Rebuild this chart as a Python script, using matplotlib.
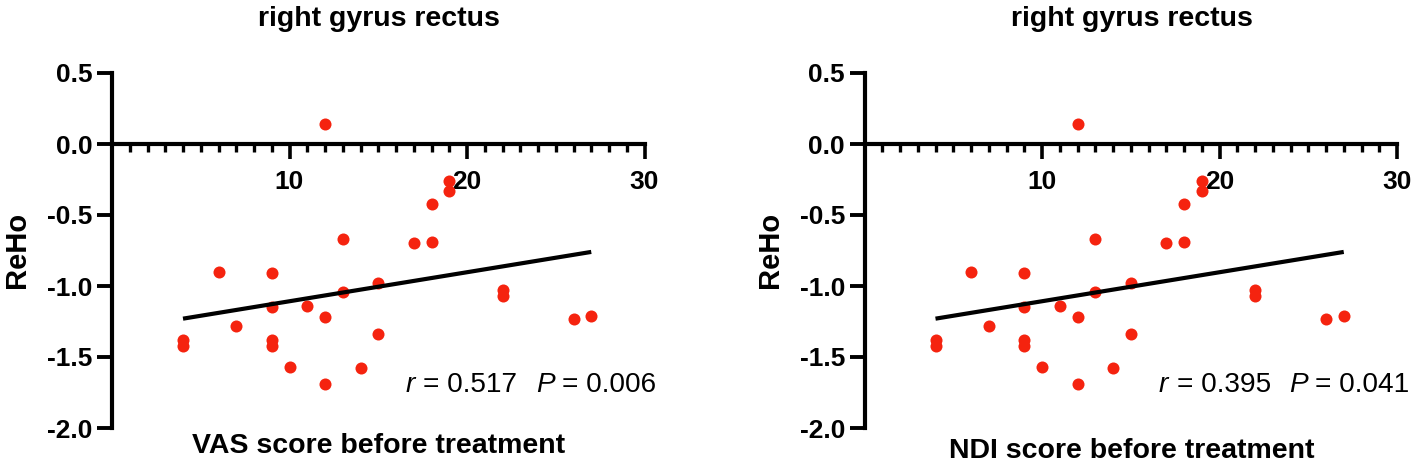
import matplotlib
matplotlib.use('Agg')
import matplotlib.pyplot as plt

plt.rcParams['font.family'] = ['Liberation Sans', 'DejaVu Sans']

W, H = 1417, 468

# data (both panels show the same points)
score = [12, 19, 19, 18, 13, 17, 18, 6, 9, 15, 13, 22, 22, 9, 11, 12, 26, 27, 7, 15, 4, 4, 9, 9, 10, 14, 12]
reho = [0.14, -0.26, -0.33, -0.42, -0.67, -0.70, -0.69, -0.90, -0.91, -0.98, -1.04, -1.03, -1.07, -1.15,
        -1.14, -1.22, -1.23, -1.21, -1.28, -1.34, -1.38, -1.42, -1.38, -1.42, -1.57, -1.58, -1.69]
fit_x = [4, 27]
fit_y = [-1.23, -0.76]
x_major = [10, 20, 30]
x_minor = list(range(1, 30))
y_major = [0.5, 0.0, -0.5, -1.0, -1.5, -2.0]
titles = ['right gyrus rectus', 'right gyrus rectus']
xlabels = ['VAS score before treatment', 'NDI score before treatment']
r_values = ['= 0.517', '= 0.395']
p_values = ['= 0.006', '= 0.041']
# left edge, right edge of each panel in pixels
panels = [(112, 644.5), (864.5, 1397)]
title_x = [378.5, 1132]
xlabel_x = [378.5, 1131.5]
xlabel_y = [446, 451]
ylabel_x = [17, 770]
# x pixel of the r, its value, the P, its value
stat_x = [(406, 423, 536, 562), (1159, 1177, 1289, 1315)]

fig = plt.figure(figsize=(W / 100, H / 100), dpi=100)

for i in range(2):
    left, right = panels[i]
    ax = fig.add_axes([left / W, 1 - 428 / H, (right - left) / W, (428 - 73) / H])
    ax.set_xlim(0, 30)
    ax.set_ylim(-2.0, 0.5)
    ax.patch.set_alpha(0)

    ax.scatter(score, reho, s=75, color='#f5230f', linewidths=0, zorder=3, clip_on=False)
    ax.plot(fit_x, fit_y, color='black', lw=3.0, solid_capstyle='butt', zorder=4)

    for side in ['top', 'right']:
        ax.spines[side].set_visible(False)
    ax.spines['bottom'].set_position(('data', 0))
    ax.spines['left'].set_linewidth(3)
    ax.spines['bottom'].set_linewidth(3)

    ax.set_xticks(x_major)
    ax.set_xticks(x_minor, minor=True)
    ax.set_yticks(y_major)
    ax.set_yticklabels(['%.1f' % v for v in y_major])
    ax.tick_params(axis='x', which='major', length=10.5, width=2.6, labelsize=19, pad=8)
    ax.tick_params(axis='x', which='minor', length=6, width=2.4)
    ax.tick_params(axis='y', which='major', length=11, width=2.8, labelsize=19, pad=3)
    for lab in ax.get_xticklabels() + ax.get_yticklabels():
        lab.set_fontweight('bold')

    fig.text(title_x[i] / W, 1 - 19 / H, titles[i], fontsize=20.5, fontweight='bold', ha='center', va='center')
    fig.text(xlabel_x[i] / W, 1 - xlabel_y[i] / H, xlabels[i], fontsize=20.5, fontweight='bold',
             ha='center', va='center')
    fig.text(ylabel_x[i] / W, 1 - 250 / H, 'ReHo', fontsize=21, fontweight='bold', rotation=90,
             ha='center', va='center')

    # r and P statistics, italic letters set apart from the numbers
    stat_y = 1 - 392.5 / H
    fig.text(stat_x[i][0] / W, stat_y, 'r', fontsize=20.2, style='italic', va='baseline')
    fig.text(stat_x[i][1] / W, stat_y, r_values[i], fontsize=20.2, va='baseline')
    fig.text(stat_x[i][2] / W, stat_y, 'P', fontsize=20.2, style='italic', va='baseline')
    fig.text(stat_x[i][3] / W, stat_y, p_values[i], fontsize=20.2, va='baseline')

fig.savefig('out.png', dpi=100)
